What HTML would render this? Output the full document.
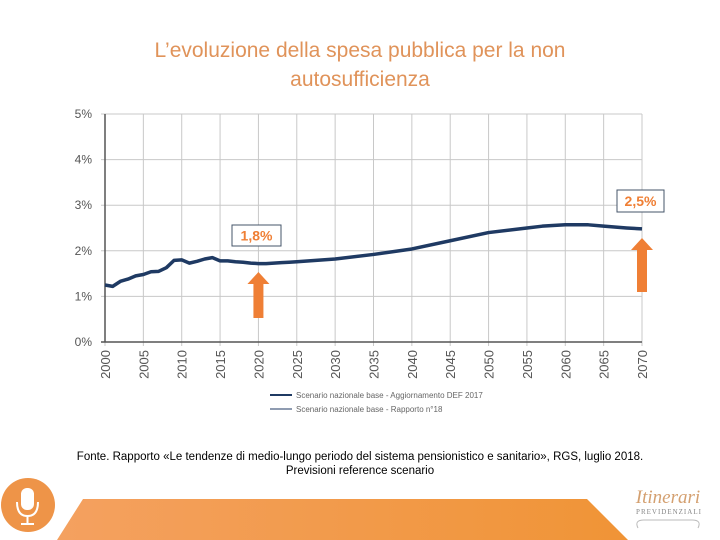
<!DOCTYPE html>
<html><head><meta charset="utf-8"><style>
body{margin:0;width:720px;height:540px;background:#fff;overflow:hidden;font-family:"Liberation Sans",sans-serif;position:relative}
.t{position:absolute;left:0;width:720px;text-align:center;color:#e0935a;font-size:21px;line-height:29px;top:36px}
.src{position:absolute;left:0;width:720px;text-align:center;font-size:11.5px;line-height:14px;top:450px;color:#000}
</style></head><body>
<div class="t">L’evoluzione della spesa pubblica per la non<br>autosufficienza</div>
<svg id="c" width="720" height="540" style="position:absolute;left:0;top:0"></svg>
<div class="src">Fonte. Rapporto «Le tendenze di medio-lungo periodo del sistema pensionistico e sanitario», RGS, luglio 2018.<br>Previsioni reference scenario</div>
<script>
const years=[2000,2001,2002,2003,2004,2005,2006,2007,2008,2009,2010,2011,2012,2013,2014,2015,2016,2017,2018,2019,2020,2021,2022,2023,2024,2025,2030,2035,2040,2045,2050,2055,2057,2060,2063,2065,2068,2070];
const values=[1.25,1.22,1.33,1.38,1.45,1.48,1.54,1.55,1.63,1.79,1.80,1.73,1.77,1.82,1.85,1.78,1.78,1.76,1.75,1.73,1.72,1.72,1.73,1.74,1.75,1.76,1.82,1.92,2.04,2.22,2.40,2.50,2.54,2.57,2.57,2.54,2.50,2.48];
const yTicks=[0,1,2,3,4,5];
const xTicks=[2000,2005,2010,2015,2020,2025,2030,2035,2040,2045,2050,2055,2060,2065,2070];
const NS="http://www.w3.org/2000/svg",svg=document.getElementById('c');
const X0=105,X1=642,Y0=342,Y1=114;
const x=v=>X0+(v-2000)/70*(X1-X0), y=v=>Y0-v/5*(Y0-Y1);
function mk(t,a,p){const e=document.createElementNS(NS,t);for(const k in a)e.setAttribute(k,a[k]);(p||svg).appendChild(e);return e;}
xTicks.forEach(v=>{const l=mk('line',{x1:x(v),x2:x(v),y1:Y1,y2:Y0+4,stroke:'#c8c8c8','stroke-width':1});

const t=mk('text',{x:0,y:0,transform:`translate(${x(v)+5},${Y0+8}) rotate(-90)`,'text-anchor':'end','font-size':13,fill:'#555','font-family':'Liberation Sans'});t.textContent=v;
});
yTicks.forEach(v=>{const l=mk('line',{x1:X0-4,x2:X1,y1:y(v),y2:y(v),stroke:v?'#c8c8c8':'#555','stroke-width':v?1:1.5});

const t=mk('text',{x:X0-13,y:y(v)+4,'text-anchor':'end','font-size':12,fill:'#555','font-family':'Liberation Sans'});t.textContent=v+'%';
});
const ax=mk('line',{x1:X0,x2:X0,y1:Y1,y2:Y0,stroke:'#555','stroke-width':1.5});

const p=mk('polyline',{points:years.map((v,i)=>x(v)+','+y(values[i])).join(' '),fill:'none',stroke:'#1f3a63','stroke-width':3.5,'stroke-linejoin':'round'});

// legend
[[395,'Scenario nazionale base - Aggiornamento DEF 2017',2],[409,'Scenario nazionale base - Rapporto n°18',1]].forEach(r=>{
const g=mk('g',{});
mk('line',{x1:270,x2:292,y1:r[0],y2:r[0],stroke:'#1f3a63','stroke-width':r[2]},g);
const t=mk('text',{x:296,y:r[0]+3,'font-size':8,fill:'#666','font-family':'Liberation Sans'},g);t.textContent=r[1];});
// annotations
function arrow(xv,top,bot,name){const g=mk('path',{d:`M${xv-5},${bot} L${xv-5},${top+12} L${xv-11},${top+12} L${xv},${top} L${xv+11},${top+12} L${xv+5},${top+12} L${xv+5},${bot} Z`,fill:'#ef7f35'});
}
arrow(x(2020),272,318,'arrow-2020');arrow(x(2070),238,292,'arrow-2070');
function box(bx,by,w,h,txt,name){const g=mk('g',{});
mk('rect',{x:bx,y:by,width:w,height:h,fill:'#fff',stroke:'#44546a','stroke-width':1},g);
const t=mk('text',{x:bx+w/2,y:by+h/2+5,'text-anchor':'middle','font-size':14,'font-weight':'bold',fill:'#ef7f35','font-family':'Liberation Sans'},g);t.textContent=txt;}
box(232,225,49,21,'1,8%','label-2020');box(617,190,47,22,'2,5%','label-2070');
// footer
const defs=mk('defs',{});const lg=mk('linearGradient',{id:'og',x1:0,x2:1,y1:0,y2:0},defs);
mk('stop',{offset:0,'stop-color':'#f4a160'},lg);mk('stop',{offset:1,'stop-color':'#f09436'},lg);
const band=mk('polygon',{points:'83,499 587,499 628,540 57,540',fill:'url(#og)'});

const mic=mk('g',{});
mk('circle',{cx:28,cy:505,r:27,fill:'#ee9448'},mic);
mk('rect',{x:21,y:488,width:13,height:22,rx:6,fill:'#fff'},mic);
mk('path',{d:'M17,502 Q17,516 27.5,516 Q38,516 38,502',fill:'none',stroke:'#fff','stroke-width':2},mic);
mk('line',{x1:27.5,x2:27.5,y1:516,y2:523,stroke:'#fff','stroke-width':2},mic);
mk('line',{x1:21,x2:34,y1:524,y2:524,stroke:'#fff','stroke-width':2},mic);
const lg2=mk('g',{});
const t1=mk('text',{x:668,y:503,'text-anchor':'middle','font-size':19,'font-style':'italic',fill:'#d4a070','font-family':'Liberation Serif'},lg2);t1.textContent='Itinerari';
const t2=mk('text',{x:669,y:514,'text-anchor':'middle','font-size':7,fill:'#888','font-family':'Liberation Serif','letter-spacing':1},lg2);t2.textContent='PREVIDENZIALI';
mk('path',{d:'M638,528 q-4,-8 6,-8 h48 q10,0 6,8',fill:'none',stroke:'#bbb','stroke-width':1},lg2);
</script>
</body></html>
